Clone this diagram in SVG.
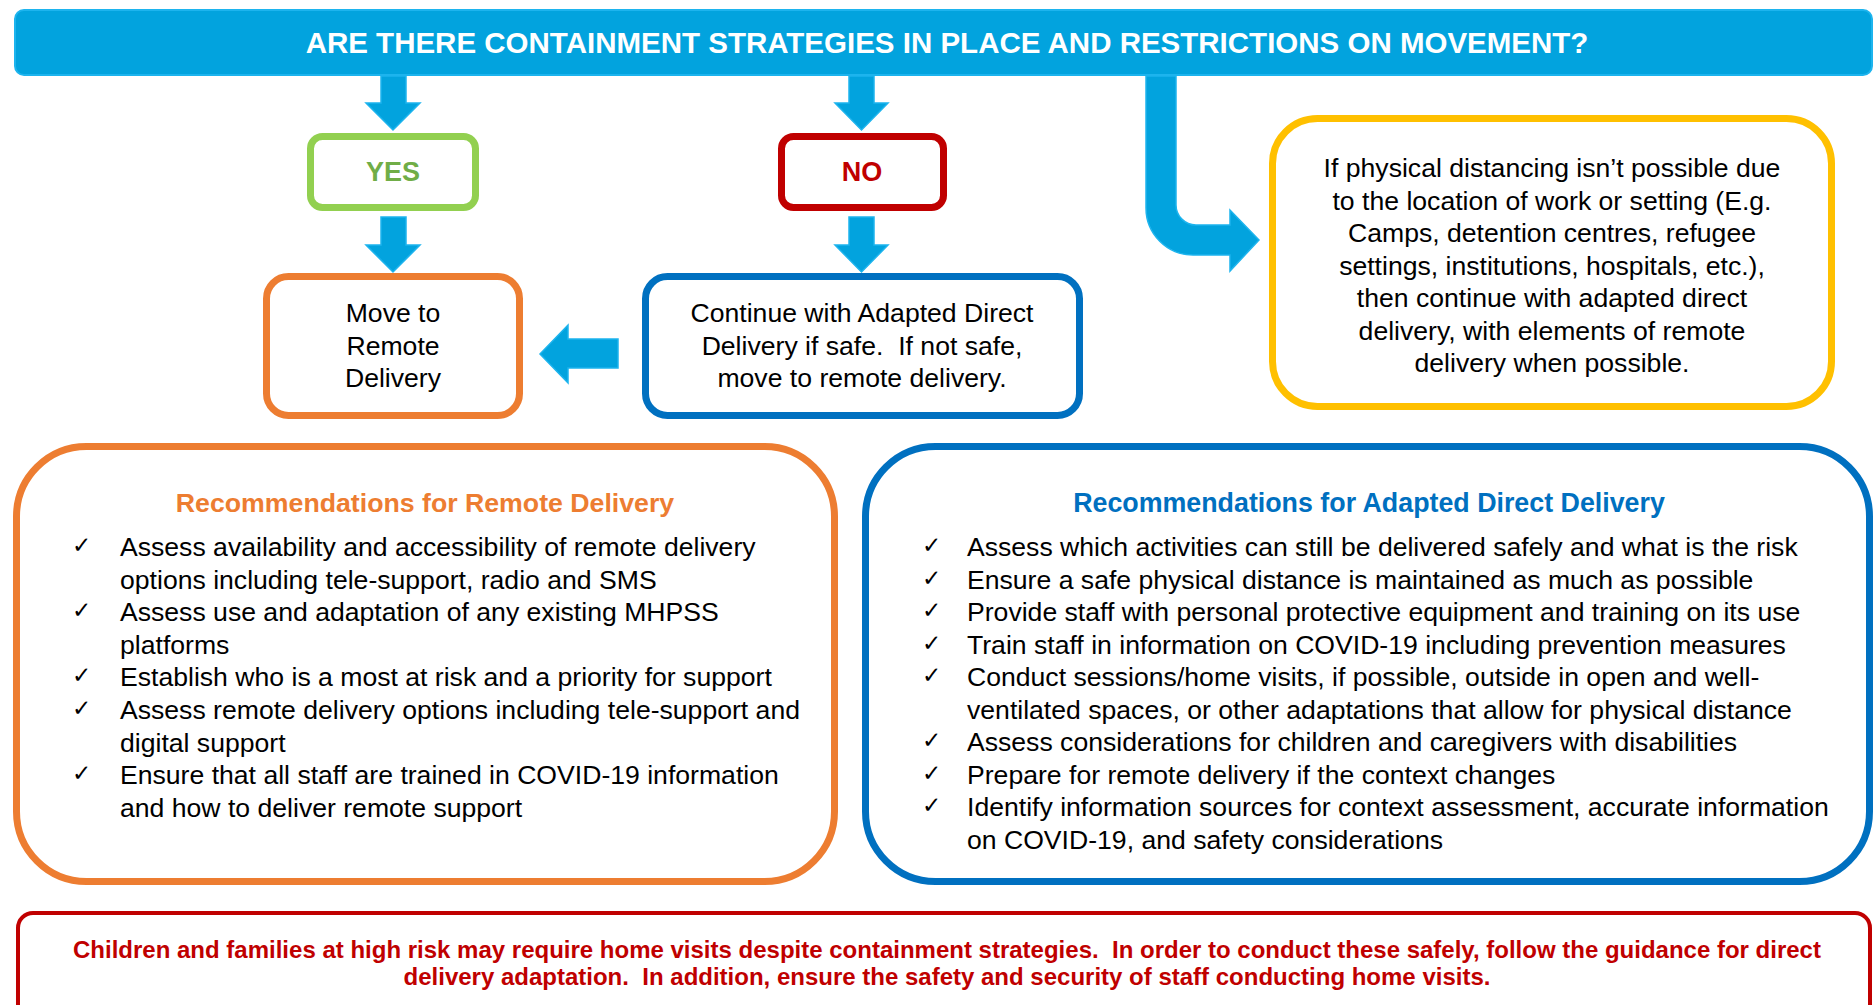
<svg xmlns="http://www.w3.org/2000/svg" width="1876" height="1005" viewBox="0 0 1876 1005">
<style>
text{font-family:"Liberation Sans",Arial,sans-serif;fill:#000;}
.t{font-size:26.6px;}
.c{text-anchor:middle;}
.b{font-weight:bold;}
.ck{font-family:"DejaVu Sans",sans-serif;font-size:23px;}
.arr{fill:#02A3DE;stroke:#1DB4EE;stroke-width:1.5;}
.box{fill:#fff;stroke-width:7;}
</style>
<rect width="1876" height="1005" fill="#fff"/>
<g id="title">
<rect x="15" y="10" width="1857" height="65" rx="9" fill="#02A3DE" stroke="#1DB4EE" stroke-width="2"/>
<text x="947" y="53" class="c b" style="font-size:29.5px;fill:#fff">ARE THERE CONTAINMENT STRATEGIES IN PLACE AND RESTRICTIONS ON MOVEMENT?</text>
</g>
<g id="connectors">
<path class="arr" d="M381,76 H406 V103 H420 L393,130 L366,103 H381 Z"/>
<path class="arr" d="M381,217 H406 V245 H420 L393,272 L366,245 H381 Z"/>
<path class="arr" d="M849,76 H874 V103 H888 L861.5,130 L835,103 H849 Z"/>
<path class="arr" d="M849,217 H874 V245 H888 L861.5,272 L835,245 H849 Z"/>
<path class="arr" d="M618,339 V368 H568 V383 L540,354 L568,325 V339 Z"/>
<path class="arr" d="M1146,76 V208 A47,47 0 0 0 1193,255 H1230 V271 L1259,240 L1230,210 V225 H1196 A20,20 0 0 1 1176,205 V76 Z"/>
</g>
<g id="yes">
<rect class="box" x="310.5" y="136.5" width="165" height="71" rx="12" stroke="#92D050"/>
<text x="393" y="181" class="c b" style="font-size:27px;fill:#70AD47">YES</text>
</g>
<g id="no">
<rect class="box" x="781.5" y="136.5" width="162" height="71" rx="12" stroke="#C00000"/>
<text x="862" y="181" class="c b" style="font-size:27px;fill:#C00000">NO</text>
</g>
<g id="remote">
<rect class="box" x="266.5" y="276.5" width="253" height="139" rx="22" stroke="#ED7D31"/>
<text class="t c" x="393" y="322">Move to</text>
<text class="t c" x="393" y="355">Remote</text>
<text class="t c" x="393" y="387">Delivery</text>
</g>
<g id="adapted">
<rect class="box" x="645.5" y="276.5" width="434" height="139" rx="22" stroke="#0070C0"/>
<text class="t c" x="862" y="322">Continue with Adapted Direct</text>
<text class="t c" x="862" y="355" xml:space="preserve">Delivery if safe.  If not safe,</text>
<text class="t c" x="862" y="387">move to remote delivery.</text>
</g>
<g id="distancing">
<rect class="box" x="1272.5" y="118.5" width="559" height="288" rx="45" stroke="#FFC000"/>
<text class="t c" x="1552" y="177">If physical distancing isn’t possible due</text>
<text class="t c" x="1552" y="209.5">to the location of work or setting (E.g.</text>
<text class="t c" x="1552" y="242">Camps, detention centres, refugee</text>
<text class="t c" x="1552" y="274.5">settings, institutions, hospitals, etc.),</text>
<text class="t c" x="1552" y="307">then continue with adapted direct</text>
<text class="t c" x="1552" y="339.5">delivery, with elements of remote</text>
<text class="t c" x="1552" y="372">delivery when possible.</text>
</g>
<g id="rec-remote">
<rect class="box" x="16.5" y="446.5" width="818" height="435" rx="70" stroke="#ED7D31"/>
<text x="425" y="512" class="c b" style="font-size:26.7px;fill:#ED7D31">Recommendations for Remote Delivery</text>
<text class="ck" x="72" y="553">✓</text><text class="t" x="120" y="556">Assess availability and accessibility of remote delivery</text>
<text class="t" x="120" y="588.5">options including tele-support, radio and SMS</text>
<text class="ck" x="72" y="618">✓</text><text class="t" x="120" y="621">Assess use and adaptation of any existing MHPSS</text>
<text class="t" x="120" y="653.5">platforms</text>
<text class="ck" x="72" y="683">✓</text><text class="t" x="120" y="686">Establish who is a most at risk and a priority for support</text>
<text class="ck" x="72" y="716">✓</text><text class="t" x="120" y="719">Assess remote delivery options including tele-support and</text>
<text class="t" x="120" y="751.5">digital support</text>
<text class="ck" x="72" y="781">✓</text><text class="t" x="120" y="784">Ensure that all staff are trained in COVID-19 information</text>
<text class="t" x="120" y="816.5">and how to deliver remote support</text>
</g>
<g id="rec-adapted">
<rect class="box" x="865.5" y="446.5" width="1004" height="435" rx="70" stroke="#0070C0"/>
<text x="1369" y="512" class="c b" style="font-size:26.8px;fill:#0070C0">Recommendations for Adapted Direct Delivery</text>
<text class="ck" x="922" y="553">✓</text><text class="t" x="967" y="556">Assess which activities can still be delivered safely and what is the risk</text>
<text class="ck" x="922" y="585.5">✓</text><text class="t" x="967" y="588.5">Ensure a safe physical distance is maintained as much as possible</text>
<text class="ck" x="922" y="618">✓</text><text class="t" x="967" y="621">Provide staff with personal protective equipment and training on its use</text>
<text class="ck" x="922" y="650.5">✓</text><text class="t" x="967" y="653.5">Train staff in information on COVID-19 including prevention measures</text>
<text class="ck" x="922" y="683">✓</text><text class="t" x="967" y="686">Conduct sessions/home visits, if possible, outside in open and well-</text>
<text class="t" x="967" y="718.5">ventilated spaces, or other adaptations that allow for physical distance</text>
<text class="ck" x="922" y="748">✓</text><text class="t" x="967" y="751">Assess considerations for children and caregivers with disabilities</text>
<text class="ck" x="922" y="780.5">✓</text><text class="t" x="967" y="783.5">Prepare for remote delivery if the context changes</text>
<text class="ck" x="922" y="813">✓</text><text class="t" x="967" y="816">Identify information sources for context assessment, accurate information</text>
<text class="t" x="967" y="848.5">on COVID-19, and safety considerations</text>
</g>
<g id="note">
<rect x="18" y="913" width="1852" height="120" rx="15" fill="#fff" stroke="#C00000" stroke-width="4"/>
<text x="947" y="957.5" class="c b" style="font-size:24px;fill:#C00000" xml:space="preserve">Children and families at high risk may require home visits despite containment strategies.  In order to conduct these safely, follow the guidance for direct</text>
<text x="947" y="984.5" class="c b" style="font-size:24px;fill:#C00000" xml:space="preserve">delivery adaptation.  In addition, ensure the safety and security of staff conducting home visits.</text>
</g>
</svg>
